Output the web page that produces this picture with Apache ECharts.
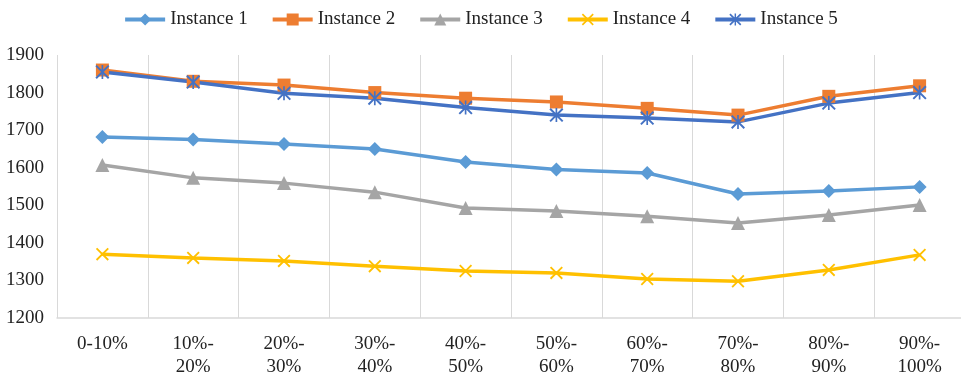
<!DOCTYPE html>
<html>
<head>
<meta charset="utf-8">
<script src="https://cdn.jsdelivr.net/npm/echarts@6/dist/echarts.min.js"></script>
<style>
  html, body { margin: 0; padding: 0; background: #fff; }
  #chart { width: 961px; height: 375px; }
</style>
</head>
<body>
<div id="chart"></div>
<script>
const categories = ['0-10%', '10%-\n20%', '20%-\n30%', '30%-\n40%', '40%-\n50%',
  '50%-\n60%', '60%-\n70%', '70%-\n80%', '80%-\n90%', '90%-\n100%'];
const instance1 = [1682, 1675, 1663, 1650, 1615, 1595, 1586, 1530, 1538, 1549];
const instance2 = [1860, 1830, 1820, 1800, 1785, 1775, 1758, 1740, 1790, 1818];
const instance3 = [1607, 1573, 1559, 1535, 1493, 1485, 1471, 1453, 1474, 1501];
const instance4 = [1370, 1360, 1352, 1338, 1325, 1320, 1304, 1298, 1328, 1368];
const instance5 = [1855, 1828, 1798, 1785, 1760, 1740, 1732, 1722, 1772, 1800];
const yTicks = { min: 1200, max: 1900, step: 100 };

// Stroke-like marker shapes built from thin filled bars
const crossPath = 'path://M0,1L1,0L10,9L9,10ZM9,0L10,1L1,10L0,9Z';
const starPath = 'path://M0,1L1,0L10,9L9,10ZM9,0L10,1L1,10L0,9ZM4.4,0L5.6,0L5.6,10L4.4,10Z';

const FONT = '"Liberation Serif", "Times New Roman", serif';

function line(name, data, color, symbol, size) {
  return {
    name, type: 'line', data, symbol, symbolSize: size,
    lineStyle: { color, width: 3.5 },
    itemStyle: { color },
    emphasis: { disabled: true },
    animation: false
  };
}

const chart = echarts.init(document.getElementById('chart'));
chart.setOption({
  backgroundColor: '#fff',
  textStyle: { fontFamily: FONT },
  legend: {
    top: 5,
    left: 'center',
    itemWidth: 40,
    itemHeight: 15,
    itemGap: 23,
    lineStyle: { width: 4 },
    textStyle: { fontFamily: FONT, fontSize: 19, color: '#222' }
  },
  grid: { left: 57, right: -4, top: 55, bottom: 57, containLabel: false, outerBoundsMode: 'none' },
  xAxis: {
    type: 'category',
    data: categories,
    boundaryGap: true,
    axisLine: { lineStyle: { color: '#d9d9d9', width: 1.5 } },
    axisTick: { show: false },
    splitLine: { show: true, interval: 0, lineStyle: { color: '#d9d9d9', width: 1 } },
    axisLabel: {
      interval: 0, margin: 15, fontFamily: FONT, fontSize: 19,
      color: '#222', lineHeight: 23
    }
  },
  yAxis: {
    type: 'value',
    min: yTicks.min, max: yTicks.max, interval: yTicks.step,
    axisLine: { show: false },
    axisTick: { show: false },
    splitLine: { show: false },
    axisLabel: {
      margin: 13, fontFamily: FONT, fontSize: 19, color: '#222',
      formatter: v => String(v)
    }
  },
  series: [
    line('Instance 1', instance1, '#5B9BD5', 'diamond', 14),
    line('Instance 2', instance2, '#ED7D31', 'rect', 13),
    line('Instance 3', instance3, '#A5A5A5', 'triangle', 14),
    line('Instance 4', instance4, '#FFC000', crossPath, 13),
    line('Instance 5', instance5, '#4472C4', starPath, 14)
  ]
});
</script>
</body>
</html>
